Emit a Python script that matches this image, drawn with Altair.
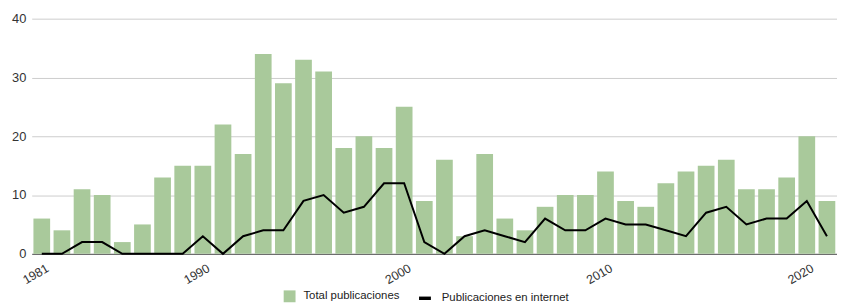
import altair as alt
import pandas as pd

years = ["1981", "1983", "1984", "1985", "1986", "1987", "1988", "1989", "1990",
         "1991", "1992", "1993", "1994", "1995", "1996", "1997", "1998", "1999",
         "2000", "2001", "2002", "2003", "2004", "2005", "2006", "2007", "2008",
         "2009", "2010", "2011", "2012", "2013", "2014", "2015", "2016", "2017",
         "2018", "2019", "2020", "2021"]
total = [6, 4, 11, 10, 2, 5, 13, 15, 15, 22, 17, 34, 29, 33, 31, 18, 20, 18, 25, 9,
         16, 3, 17, 6, 4, 8, 10, 10, 14, 9, 8, 12, 14, 15, 16, 11, 11, 13, 20, 9]
internet = [0, 0, 2, 2, 0, 0, 0, 0, 3, 0, 3, 4, 4, 9, 10, 7, 8, 12, 12, 2,
            0, 3, 4, 3, 2, 6, 4, 4, 6, 5, 5, 4, 3, 7, 8, 5, 6, 6, 9, 3]
shown_years = ["1981", "1990", "2000", "2010", "2020"]
y_ticks = [0, 10, 20, 30, 40]
series_total = "Total publicaciones"
series_internet = "Publicaciones en internet"

df = pd.DataFrame({"year": years, "total": total, "internet": internet})
df["s1"] = series_total
df["s2"] = series_internet

FONT = "Liberation Sans"

x_enc = alt.X(
    "year:O", sort=None, title=None,
    scale=alt.Scale(paddingInner=0.17, paddingOuter=0.085),
    axis=alt.Axis(values=shown_years, labelAngle=-30, ticks=False, grid=False,
                  domainColor="#555555", domainWidth=1, labelPadding=8,
                  labelOffset=3, labelFontSize=12.5, labelColor="#333333",
                  labelFont=FONT, labelOverlap=False),
)

y_scale = alt.Scale(domain=[0, 40])
y_axis = alt.Axis(values=y_ticks, title=None, domain=False, ticks=False,
                  gridColor="#cccccc", gridWidth=1, labelPadding=6,
                  labelFontSize=13, labelColor="#333333", labelFont=FONT,
                  minExtent=19, maxExtent=19)

bars = alt.Chart(df).mark_bar().encode(
    x=x_enc,
    y=alt.Y("total:Q", scale=y_scale, axis=y_axis, title=None),
    color=alt.Color("s1:N", title=None,
                    scale=alt.Scale(domain=[series_total], range=["#a9c99b"]),
                    legend=alt.Legend(orient="none", legendX=255, legendY=275,
                                      symbolType="square", symbolSize=144,
                                      symbolStrokeWidth=0, labelFontSize=11.5,
                                      labelFont=FONT, labelColor="#222222",
                                      labelOffset=8, padding=0)),
)

line = alt.Chart(df).mark_line(strokeWidth=2).encode(
    x=x_enc,
    y=alt.Y("internet:Q", scale=y_scale, axis=y_axis, title=None),
    stroke=alt.Stroke("s2:N", title=None,
                      scale=alt.Scale(domain=[series_internet], range=["#000000"]),
                      legend=alt.Legend(orient="none", legendX=390, legendY=275,
                                        symbolType="stroke", symbolSize=144,
                                        symbolStrokeWidth=3.5, labelFontSize=11.5,
                                        labelFont=FONT, labelColor="#222222",
                                        labelOffset=9, padding=0)),
)

chart = alt.layer(bars, line).resolve_scale(y="shared").properties(
    width=815, height=238,
    padding={"left": 3, "top": 3, "right": 0, "bottom": 0},
    background="white",
).configure_view(stroke=None)

chart.save("out.html", embed_options={"renderer": "svg", "actions": False})
